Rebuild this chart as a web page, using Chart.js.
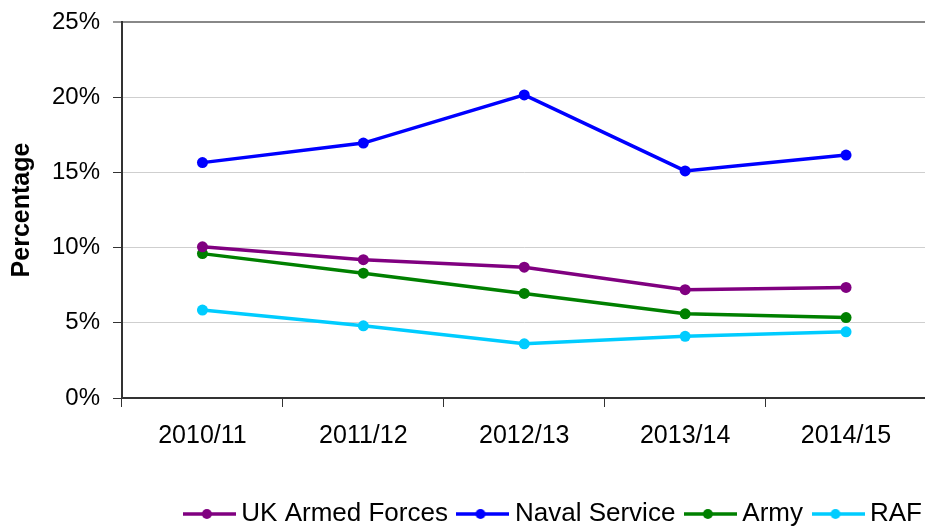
<!DOCTYPE html>
<html lang="en">
<head>
<meta charset="UTF-8">
<title>Percentage by service</title>
<script src="https://cdn.jsdelivr.net/npm/chart.js"></script>
<style>
    html, body {
        margin: 0;
        padding: 0;
        background: #fff;
        overflow: hidden;
    }
    #wrap {
        width: 932px;
        height: 537px;
    }
</style>
</head>
<body>
<div id="wrap"><canvas id="chart" width="932" height="537"></canvas></div>
<script>
const years = ['2010/11', '2011/12', '2012/13', '2013/14', '2014/15'];
const ukArmedForces = [10.05, 9.2, 8.7, 7.2, 7.35];
const navalService = [15.65, 16.95, 20.15, 15.1, 16.15];
const army = [9.6, 8.3, 6.95, 5.6, 5.35];
const raf = [5.85, 4.8, 3.6, 4.1, 4.4];
const yTicks = [0, 5, 10, 15, 20, 25];

const seriesNames = ['UK Armed Forces', 'Naval Service', 'Army', 'RAF'];
const seriesData = [ukArmedForces, navalService, army, raf];
const seriesColors = ['#800080', '#0000ff', '#008000', '#00ccff'];

Chart.defaults.font.family = "'Liberation Sans', Arial, sans-serif";
Chart.defaults.color = '#000';

// little "line with a dot" swatch for the legend, like the original
function legendSwatch(color) {
    const c = document.createElement('canvas');
    c.width = 53;
    c.height = 12;
    const g = c.getContext('2d');
    g.strokeStyle = color;
    g.lineWidth = 3.5;
    g.beginPath();
    g.moveTo(0, 6);
    g.lineTo(53, 6);
    g.stroke();
    g.fillStyle = color;
    g.beginPath();
    g.arc(24, 6, 5, 0, Math.PI * 2);
    g.fill();
    return c;
}

const legendShift = 6;
const nudgeLegend = {
    id: 'nudgeLegend',
    afterLayout(chart) {
        chart.legend.left += legendShift;
        chart.legend.right += legendShift;
    }
};

new Chart(document.getElementById('chart'), {
    type: 'line',
    data: {
        labels: years,
        datasets: seriesNames.map((name, i) => ({
            label: name,
            data: seriesData[i],
            borderColor: seriesColors[i],
            backgroundColor: seriesColors[i],
            pointBackgroundColor: seriesColors[i],
            pointBorderWidth: 0,
            pointRadius: 5.5,
            pointStyle: 'circle',
            borderWidth: 3.5,
            tension: 0,
            fill: false
        }))
    },
    options: {
        responsive: false,
        animation: false,
        layout: { padding: { top: 22, left: 0, right: 0, bottom: 0 } },
        scales: {
            x: {
                offset: true,
                grid: {
                    offset: true,
                    drawOnChartArea: false,
                    tickLength: 9,
                    tickColor: '#333',
                    tickWidth: 1
                },
                border: { color: '#333', width: 2 },
                ticks: { font: { size: 25 }, padding: 14, color: '#000' },
                afterFit(scale) { scale.height = 87; }
            },
            y: {
                min: 0,
                max: 25,
                afterBuildTicks(scale) { scale.ticks = yTicks.map(v => ({ value: v })); },
                grid: {
                    color: ctx => ctx.tick && ctx.tick.value === 25 ? '#888' : '#cfcfcf',
                    lineWidth: ctx => ctx.tick && ctx.tick.value === 25 ? 2 : 1,
                    tickLength: 9,
                    tickColor: '#333',
                    tickWidth: 1
                },
                border: { color: '#333', width: 2 },
                ticks: {
                    font: { size: 24 },
                    padding: 13,
                    color: '#000',
                    callback: v => v + '%'
                },
                title: {
                    display: true,
                    text: 'Percentage',
                    font: { size: 25, weight: 'bold' },
                    color: '#000',
                    padding: { top: 7, bottom: 0 }
                },
                afterFit(scale) {
                    scale.width = 122;
                    scale.paddingTop = 0;
                    scale.paddingBottom = 0;
                }
            }
        },
        plugins: {
            legend: {
                position: 'bottom',
                align: 'end',
                labels: {
                    usePointStyle: true,
                    pointStyleWidth: 38,
                    padding: 16,
                    font: { size: 26 },
                    color: '#000',
                    generateLabels(chart) {
                        return chart.data.datasets.map((ds, i) => ({
                            text: ds.label,
                            pointStyle: legendSwatch(seriesColors[i]),
                            fillStyle: seriesColors[i],
                            strokeStyle: seriesColors[i],
                            lineWidth: 0,
                            hidden: false,
                            datasetIndex: i
                        }));
                    }
                }
            },
            tooltip: { enabled: false }
        }
    },
    plugins: [nudgeLegend]
});
</script>
</body>
</html>
